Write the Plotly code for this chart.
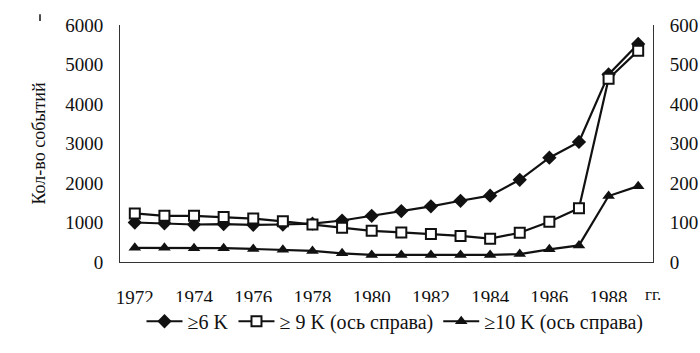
import plotly.graph_objects as go

# Annual counts of events, 1972-1989
years = list(range(1972, 1990))
ge6 = [1000, 980, 950, 960, 940, 950, 970, 1050, 1170, 1290, 1410, 1550, 1680, 2080, 2640, 3040, 4750, 5520]
ge9 = [123, 117, 117, 114, 110, 103, 95, 87, 79, 75, 71, 66, 59, 74, 102, 136, 464, 535]
ge10 = [36, 36, 35, 35, 33, 31, 28, 22, 18, 18, 18, 18, 18, 20, 32, 42, 167, 192]

label_years = list(range(1972, 1989, 2))
boundary_ticks = [y + 0.5 for y in range(1972, 1989)]
left_ticks = [0, 1000, 2000, 3000, 4000, 5000, 6000]
right_ticks = [0, 100, 200, 300, 400, 500, 600]

FONT = "Liberation Serif"
BLACK = "#111111"
AXIS = "#333333"
CLEAR = "rgba(0,0,0,0)"

fig = go.Figure()

fig.add_trace(go.Scatter(
    x=years, y=ge6, name="≥6 K", mode="lines+markers",
    line=dict(color=BLACK, width=2.2),
    marker=dict(symbol="diamond", size=11, color=BLACK),
    xaxis="x", yaxis="y",
))
fig.add_trace(go.Scatter(
    x=years, y=ge9, name="≥ 9 K (ось справа)", mode="lines+markers",
    line=dict(color=BLACK, width=2.2),
    marker=dict(symbol="square", size=10, color="white",
                line=dict(color=BLACK, width=2)),
    xaxis="x", yaxis="y2",
))
fig.add_trace(go.Scatter(
    x=years, y=ge10, name="≥10 K (ось справа)", mode="lines+markers",
    line=dict(color=BLACK, width=2.2),
    marker=dict(symbol="triangle-up", size=11, color=BLACK),
    xaxis="x", yaxis="y2",
))

fig.update_layout(
    width=700, height=353,
    margin=dict(l=120, r=47, t=25, b=88),
    paper_bgcolor="white", plot_bgcolor="white",
    font=dict(family=FONT, size=19, color=BLACK),
    showlegend=True,
    legend=dict(
        orientation="h", x=(395 - 120) / 533, xanchor="center",
        y=-60 / 240, yanchor="middle",
        font=dict(family=FONT, size=20, color=BLACK),
        itemwidth=36,
    ),
    # labelled year axis; its invisible long ticks push the labels down
    xaxis=dict(
        range=[1971.5, 1989.5], tickmode="array", tickvals=label_years,
        ticktext=[str(y) for y in label_years],
        ticks="outside", ticklen=18, tickcolor=CLEAR,
        showgrid=False, zeroline=False, automargin=False,
        showline=True, linecolor=AXIS, linewidth=1,
        tickfont=dict(family=FONT, size=19, color=BLACK),
    ),
    # visible tick marks between the years
    xaxis2=dict(
        range=[1971.5, 1989.5], overlaying="x", anchor="y",
        tickmode="array", tickvals=boundary_ticks, showticklabels=False,
        ticks="outside", ticklen=5, tickcolor=AXIS, tickwidth=1,
        showgrid=False, zeroline=False, showline=False, automargin=False,
    ),
    yaxis=dict(
        range=[0, 6000], tickmode="array", tickvals=left_ticks,
        ticks="outside", ticklen=12, tickcolor=CLEAR,
        showgrid=False, zeroline=False, automargin=False,
        showline=True, linecolor=AXIS, linewidth=1,
        tickfont=dict(family=FONT, size=19, color=BLACK),
        title=dict(text="Кол-во событий", font=dict(family=FONT, size=18, color=BLACK),
                   standoff=14),
    ),
    yaxis2=dict(
        range=[0, 600], overlaying="y", side="right", anchor="x",
        tickmode="array", tickvals=right_ticks,
        ticks="outside", ticklen=12, tickcolor=CLEAR,
        showgrid=False, zeroline=False, automargin=False,
        showline=True, linecolor=AXIS, linewidth=1,
        tickfont=dict(family=FONT, size=19, color=BLACK),
    ),
    # short visible tick marks on both value axes
    yaxis3=dict(
        range=[0, 6000], overlaying="y", side="left", anchor="x",
        tickmode="array", tickvals=left_ticks, showticklabels=False,
        ticks="outside", ticklen=5, tickcolor=AXIS,
        showgrid=False, zeroline=False, showline=False, automargin=False,
    ),
    yaxis4=dict(
        range=[0, 600], overlaying="y", side="right", anchor="x",
        tickmode="array", tickvals=right_ticks, showticklabels=False,
        ticks="outside", ticklen=5, tickcolor=AXIS,
        showgrid=False, zeroline=False, showline=False, automargin=False,
    ),
)

# Year unit at the end of the time axis
fig.add_annotation(
    x=1989.5, xref="x", y=0, yref="paper", yshift=-32,
    text="гг.", showarrow=False, xanchor="center", yanchor="middle",
    font=dict(family=FONT, size=17, color=BLACK),
)
# Small mark in the top-left corner
fig.add_shape(
    type="line", xref="paper", yref="paper",
    x0=(40 - 120) / 533, x1=(40 - 120) / 533,
    y0=1 + 4 / 240, y1=1 + 11 / 240,
    line=dict(color=BLACK, width=1.5),
)

fig.write_html("out.html")
